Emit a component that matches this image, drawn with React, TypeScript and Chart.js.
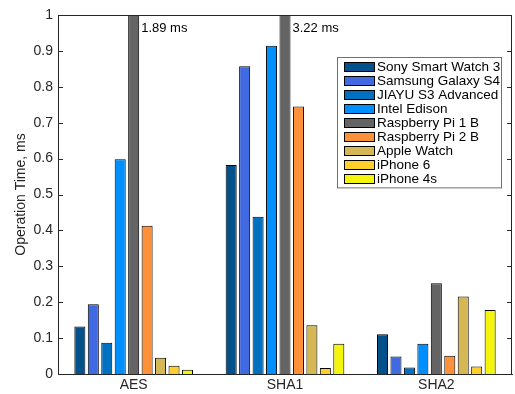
import React, { useEffect, useRef } from "react";
import { Chart, registerables } from "chart.js";

Chart.register(...registerables);

const categories = ["AES", "SHA1", "SHA2"];
const devices = [
  "Sony Smart Watch 3",
  "Samsung Galaxy S4",
  "JIAYU S3 Advanced",
  "Intel Edison",
  "Raspberry Pi 1 B",
  "Raspberry Pi 2 B",
  "Apple Watch",
  "iPhone 6",
  "iPhone 4s",
];
const deviceColors = [
  "#03518B",
  "#4169E1",
  "#0070C0",
  "#008FFF",
  "#646464",
  "#FD9139",
  "#D6B756",
  "#FDCF2E",
  "#F4F40C",
];
const sonyWatch = [0.132, 0.582, 0.111];
const galaxyS4 = [0.194, 0.857, 0.049];
const jiayuS3 = [0.087, 0.438, 0.018];
const intelEdison = [0.598, 0.914, 0.084];
const raspberryPi1 = [1.89, 3.22, 0.253];
const raspberryPi2 = [0.413, 0.745, 0.051];
const appleWatch = [0.045, 0.136, 0.216];
const iphone6 = [0.023, 0.017, 0.021];
const iphone4s = [0.012, 0.084, 0.178];
const yTickValues = [0, 0.1, 0.2, 0.3, 0.4, 0.5, 0.6, 0.7, 0.8, 0.9, 1];
const yMin = 0;
const yMax = 1;

const seriesValues = [
  sonyWatch,
  galaxyS4,
  jiayuS3,
  intelEdison,
  raspberryPi1,
  raspberryPi2,
  appleWatch,
  iphone6,
  iphone4s,
];

const FONT = "'Liberation Sans', Arial, Helvetica, sans-serif";
const AXIS_COLOR = "#262626";

const decorPlugin = {
  id: "decor",
  afterDatasetsDraw(chart: any) {
    const { ctx, chartArea: a, scales } = chart;
    ctx.save();
    ctx.strokeStyle = AXIS_COLOR;
    ctx.lineWidth = 1;
    // top and right box lines
    ctx.beginPath();
    ctx.moveTo(a.left, Math.round(a.top) + 0.5);
    ctx.lineTo(a.right, Math.round(a.top) + 0.5);
    ctx.moveTo(Math.round(a.right) - 0.5, a.top);
    ctx.lineTo(Math.round(a.right) - 0.5, a.bottom);
    ctx.stroke();
    // inward ticks
    ctx.beginPath();
    yTickValues.forEach((v) => {
      const y = Math.round(scales.y.getPixelForValue(v)) + 0.5;
      ctx.moveTo(a.left, y);
      ctx.lineTo(a.left + 5, y);
      ctx.moveTo(a.right - 5, y);
      ctx.lineTo(a.right, y);
    });
    ctx.stroke();

    // annotations for clipped bars
    ctx.fillStyle = "#000";
    ctx.font = `13px ${FONT}`;
    ctx.textBaseline = "middle";
    ctx.textAlign = "left";
    chart.data.datasets.forEach((ds: any, di: number) => {
      const meta = chart.getDatasetMeta(di);
      ds.data.forEach((v: number, i: number) => {
        if (v > yMax) {
          const el = meta.data[i];
          ctx.fillText(`${v} ms`, el.x + el.width / 2 + 2, a.top + 13);
        }
      });
    });

    // legend
    const boxL = 337;
    const boxR = a.right - 10;
    const boxT = a.top + 42;
    const rowH = 14.04;
    const n = chart.data.datasets.length;
    const boxB = boxT + n * rowH + 5;
    ctx.fillStyle = "#fff";
    ctx.fillRect(boxL, boxT, boxR - boxL, boxB - boxT);
    ctx.strokeStyle = "#707070";
    ctx.strokeRect(boxL + 0.5, boxT + 0.5, boxR - boxL - 1, boxB - boxT - 1);
    ctx.font = `13.5px ${FONT}`;
    chart.data.datasets.forEach((ds: any, i: number) => {
      const cy = boxT + 9.7 + i * rowH;
      ctx.fillStyle = ds.backgroundColor;
      ctx.fillRect(boxL + 7, Math.round(cy - 5), 31, 10);
      ctx.strokeStyle = "#000";
      ctx.strokeRect(boxL + 7.5, Math.round(cy - 5) + 0.5, 30, 9);
      ctx.fillStyle = "#000";
      ctx.fillText(ds.label, boxL + 40, cy + 0.5);
    });
    ctx.restore();
  },
};

export default function App() {
  const ref = useRef<HTMLCanvasElement | null>(null);
  useEffect(() => {
    document.body.style.margin = "0";
    if (!ref.current) return;
    const chart = new Chart(ref.current, {
      type: "bar",
      data: {
        labels: categories,
        datasets: devices.map((name, i) => ({
          label: name,
          data: seriesValues[i],
          backgroundColor: deviceColors[i],
          borderColor: "#000",
          borderWidth: 1,
          categoryPercentage: 0.8,
          barPercentage: 0.82,
        })),
      },
      options: {
        responsive: false,
        maintainAspectRatio: false,
        animation: false,
        layout: { padding: { top: 15, right: 3, left: 0, bottom: 0 } },
        plugins: {
          legend: { display: false },
          tooltip: { enabled: false },
        },
        scales: {
          x: {
            grid: { display: false, drawTicks: false },
            border: { display: true, color: AXIS_COLOR },
            ticks: {
              color: AXIS_COLOR,
              font: { family: FONT, size: 14 },
              padding: 3,
            },
            afterFit: (s: any) => {
              s.height = 20;
            },
          },
          y: {
            min: yMin,
            max: yMax,
            grid: { display: false, drawTicks: false },
            border: { display: true, color: AXIS_COLOR },
            afterBuildTicks: (s: any) => {
              s.ticks = yTickValues.map((v) => ({ value: v }));
            },
            ticks: {
              color: AXIS_COLOR,
              font: { family: FONT, size: 14 },
              padding: 5,
              callback: (v: any) => String(Math.round(Number(v) * 10) / 10),
            },
            title: {
              display: true,
              text: "Operation Time, ms",
              color: AXIS_COLOR,
              font: { family: FONT, size: 14 },
              padding: { top: 13, bottom: 0 },
            },
            afterFit: (s: any) => {
              s.width = 58;
            },
          },
        },
      },
      plugins: [decorPlugin],
    });
    return () => chart.destroy();
  }, []);
  return <canvas ref={ref} width={515} height={394} style={{ display: "block" }} />;
}
